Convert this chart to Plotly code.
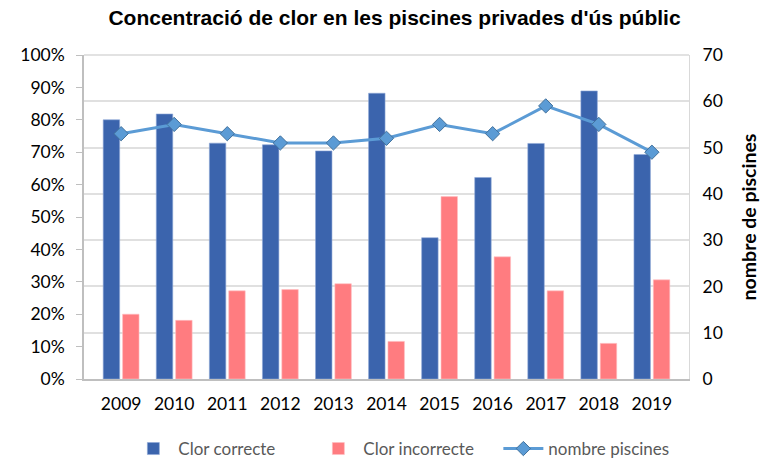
import plotly.graph_objects as go

years = ["2009", "2010", "2011", "2012", "2013", "2014", "2015", "2016", "2017", "2018", "2019"]
clor_correcte = [0.800, 0.818, 0.728, 0.723, 0.704, 0.882, 0.436, 0.622, 0.727, 0.889, 0.693]
clor_incorrecte = [0.200, 0.181, 0.272, 0.276, 0.294, 0.116, 0.563, 0.377, 0.272, 0.110, 0.306]
nombre_piscines = [53, 55, 53, 51, 51, 52, 55, 53, 59, 55, 49]

left_ticks = [i / 10 for i in range(11)]
left_labels = [f"{i * 10}%" for i in range(11)]
right_ticks = list(range(0, 80, 10))

tick_font = dict(family="Lato, Noto Sans, sans-serif", size=17.5, color="#000000")

fig = go.Figure()
fig.add_trace(go.Bar(
    x=years, y=clor_correcte, name="Clor correcte",
    marker=dict(color="#3B64AD", line=dict(color="#8FA8D6", width=0.6)),
))
fig.add_trace(go.Bar(
    x=years, y=clor_incorrecte, name="Clor incorrecte",
    marker=dict(color="#FF7C80", line=dict(color="#FFC0C2", width=0.6)),
))
fig.add_trace(go.Scatter(
    x=years, y=nombre_piscines, name="nombre piscines", yaxis="y2",
    mode="lines+markers",
    line=dict(color="#5B9BD5", width=3),
    marker=dict(symbol="diamond", size=11, color="#5B9BD5",
                line=dict(color="#41719C", width=1)),
))

fig.update_layout(
    width=769, height=462,
    margin=dict(l=84, r=80, t=55, b=83, autoexpand=False),
    paper_bgcolor="white", plot_bgcolor="white",
    title=dict(text="<b>Concentració de clor en les piscines privades d'ús públic</b>",
               x=0.513, xanchor="center", y=0.962, yanchor="middle",
               font=dict(family="Liberation Sans, Arial, sans-serif", size=21, color="#000000")),
    barmode="group", bargap=0.27, bargroupgap=0.15,
    xaxis=dict(tickfont=tick_font, showline=True, linecolor="#BFBFBF", linewidth=1.5,
               ticks="outside", ticklen=8, tickcolor="rgba(0,0,0,0)",
               showgrid=False, mirror=False, automargin=False),
    yaxis=dict(range=[0, 1], tickvals=left_ticks, ticktext=left_labels, tickfont=tick_font,
               showline=True, linecolor="#BFBFBF", linewidth=1.5, ticks="outside",
               ticklen=6, tickcolor="#BFBFBF", ticklabelstandoff=8,
               showgrid=False, zeroline=False, automargin=False),
    yaxis2=dict(range=[0, 70], tickvals=right_ticks, overlaying="y", side="right",
                tickfont=tick_font, showgrid=True, gridcolor="#E0E0E0", gridwidth=1.5,
                showline=True, linecolor="#D9D9D9", zeroline=False,
                ticks="outside", ticklen=9, tickcolor="rgba(0,0,0,0)",
                automargin=False,
                title=dict(text="<b>nombre de piscines</b>",
                           font=dict(family="Lato, Noto Sans, sans-serif", size=19.5, color="#000000"),
                           standoff=20)),
    legend=dict(orientation="h", x=0.532, xanchor="center", y=-0.216, yanchor="middle",
                font=dict(family="Lato, Noto Sans, sans-serif", size=17, color="#595959"),
                traceorder="normal", itemwidth=40, entrywidth=130),
    showlegend=True,
)
# top border of the plot area
fig.add_shape(type="line", xref="paper", yref="paper", x0=0, x1=1, y0=1, y1=1,
              line=dict(color="#D9D9D9", width=1.5))

fig.write_html("out.html", config={"displayModeBar": False},
               post_script="document.body.style.margin='0px';")
